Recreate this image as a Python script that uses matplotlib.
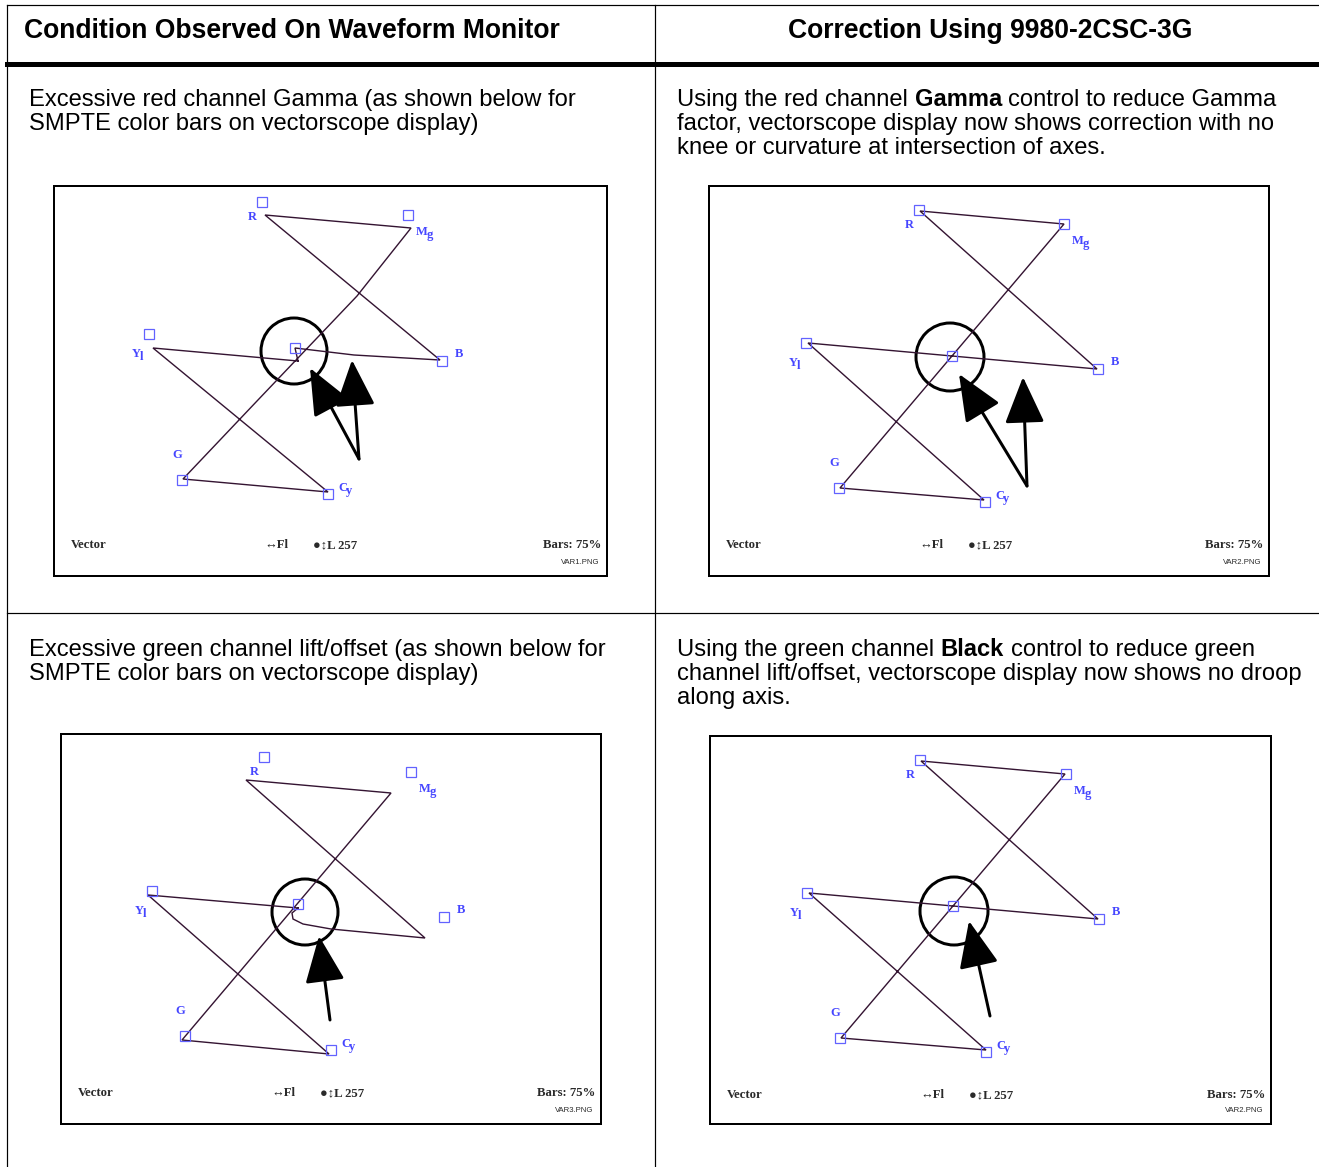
import matplotlib
matplotlib.use("Agg")
import matplotlib.pyplot as plt
from matplotlib.patches import Circle, FancyArrowPatch

W, H = 1319, 1167

# header and description text
header_left = "Condition Observed On Waveform Monitor"
header_right = "Correction Using 9980-2CSC-3G"

text_top_left = [[("Excessive red channel Gamma (as shown below for", False)],
                 [("SMPTE color bars on vectorscope display)", False)]]
text_top_right = [[("Using the red channel", False), ("Gamma", True), ("control to reduce Gamma", False)],
                  [("factor, vectorscope display now shows correction with no", False)],
                  [("knee or curvature at intersection of axes.", False)]]
text_bot_left = [[("Excessive green channel lift/offset (as shown below for", False)],
                 [("SMPTE color bars on vectorscope display)", False)]]
text_bot_right = [[("Using the green channel", False), ("Black", True), ("control to reduce green", False)],
                  [("channel lift/offset, vectorscope display now shows no droop", False)],
                  [("along axis.", False)]]

# vectorscope target names (order of the target lists below, centre last)
target_names = [("R", ""), ("M", "g"), ("B", ""), ("C", "y"), ("G", ""), ("Y", "l")]

# trace points (scope pixel units)
p1_trace = [(244, 175), (99, 162), (274, 306), (129, 293), (203, 215), (303, 110), (357, 42),
            (211, 29), (386, 174), (300, 169), (241, 162), (244, 175)]
p1_targets = [(208, 16), (354, 29), (388, 175), (274, 308), (128, 294), (95, 148), (241, 162)]

p2_trace = [(243, 170), (99, 157), (275, 314), (131, 302), (355, 38), (211, 25), (388, 183), (243, 170)]
p2_targets = [(210, 24), (355, 38), (389, 183), (276, 316), (130, 302), (97, 157), (243, 170)]

p3_trace = [(237, 174), (87, 161), (268, 320), (121, 306), (330, 59), (185, 46), (364, 204),
            (270, 195), (242, 190), (232, 185), (231, 179), (237, 174)]
p3_targets = [(203, 23), (350, 38), (383, 183), (270, 316), (124, 302), (91, 157), (237, 170)]

p4_trace = [(243, 170), (99, 157), (276, 314), (131, 302), (355, 38), (211, 25), (388, 183), (243, 170)]
p4_targets = [(210, 24), (356, 38), (389, 183), (276, 316), (130, 302), (97, 157), (243, 170)]

# highlight circles and arrows (centre, radius) / (tail, tips)
p1_circle = ((240, 165), 33)
p1_arrows = ((305, 273), [(256, 182), (298, 174)])
p2_circle = ((241, 171), 34)
p2_arrows = ((318, 300), [(250, 188), (314, 191)])
p3_circle = ((244, 178), 33)
p3_arrows = ((269, 286), [(258, 202)])
p4_circle = ((244, 175), 34)
p4_arrows = ((280, 280), [(259, 185)])

file_names = ["VAR1.PNG", "VAR2.PNG", "VAR3.PNG", "VAR2.PNG"]

fig = plt.figure(figsize=(W / 100, H / 100), dpi=100)
ax0 = fig.add_axes([0, 0, 1, 1])
ax0.set_xlim(0, W)
ax0.set_ylim(H, 0)
ax0.axis("off")
renderer = fig.canvas.get_renderer()

px = 0.72  # one pixel in points

# table rules
ax0.plot([7, W], [5, 5], color="k", lw=1.2 * px)
ax0.plot([7, 7], [5, H], color="k", lw=1.2 * px)
ax0.plot([655, 655], [5, H], color="k", lw=1.2 * px)
ax0.plot([7, W], [64, 64], color="k", lw=5 * px)
ax0.plot([7, W], [613, 613], color="k", lw=1.2 * px)

sans = "Liberation Sans"
ax0.text(24, 38, header_left, fontsize=19.1, fontweight="bold", family=sans, va="baseline")
ax0.text(990, 38, header_right, fontsize=19.1, fontweight="bold", family=sans, va="baseline", ha="center")


def text_width(s, size, bold):
    t = ax0.text(0, 0, s, fontsize=size, fontweight="bold" if bold else "normal", family=sans)
    w = t.get_window_extent(renderer).width
    t.remove()
    return w


def draw_paragraph(x0, y0, lines, size=17.15, step=24):
    space = text_width("x x", size, False) - text_width("xx", size, False)
    for i, runs in enumerate(lines):
        x = x0
        for txt, bold in runs:
            t = ax0.text(x, y0 + i * step, txt, fontsize=size, family=sans,
                         fontweight="bold" if bold else "normal", va="baseline")
            x += t.get_window_extent(renderer).width + space


draw_paragraph(29, 106, text_top_left)
draw_paragraph(677, 106, text_top_right)
draw_paragraph(29, 656, text_bot_left)
draw_paragraph(677, 656, text_bot_right)

label_offsets = [(-10, 15), (20, 17), (17, -7), (19, -6), (-5, -25), (-8, 20)]
serif = ["Liberation Serif", "DejaVu Serif"]
blue = "#4545ff"


def draw_scope(box, trace, targets, circle, arrows, fname):
    x, y, w, h = box
    ax = fig.add_axes([x / W, 1 - (y + h) / H, w / W, h / H])
    ax.set_xlim(0, w)
    ax.set_ylim(h, 0)
    ax.set_xticks([])
    ax.set_yticks([])
    for s in ax.spines.values():
        s.set_linewidth(2 * px)

    tx = [p[0] for p in trace]
    ty = [p[1] for p in trace]
    ax.plot(tx, ty, color="#341432", lw=1.4 * px, solid_joinstyle="miter")

    gx = [p[0] for p in targets]
    gy = [p[1] for p in targets]
    ax.plot(gx, gy, ls="none", marker="s", ms=7.6, mfc="none", mec="#6262ff", mew=0.9)

    for (main, sub), (gx0, gy0), (dx, dy) in zip(target_names, targets, label_offsets):
        lx, ly = gx0 + dx, gy0 + dy
        ax.text(lx, ly, main, color=blue, fontsize=9, family=serif, fontweight="bold",
                ha="center" if not sub else "right", va="center")
        if sub:
            ax.text(lx - 1, ly + 3, sub, color=blue, fontsize=9, family=serif, fontweight="bold",
                    ha="left", va="center")

    (cx, cy), r = circle
    ax.add_patch(Circle((cx, cy), r, fill=False, ec="k", lw=3 * px))
    tail, tips = arrows
    for tip in tips:
        ax.add_patch(FancyArrowPatch(tail, tip, arrowstyle="-|>,head_length=1.45,head_width=0.62",
                                     mutation_scale=20, color="k", lw=3 * px,
                                     shrinkA=0, shrinkB=0))

    ty0 = h - 31 if h > 389 else h - 29
    tcol = "#2a2a2a"
    fs = 9.2
    ax.text(17, ty0, "Vector", fontsize=fs, family=serif, fontweight="bold", color=tcol, va="center")
    ax.text(210, ty0, "\u2194Fl", fontsize=fs, family=serif, fontweight="bold", color=tcol, va="center")
    ax.text(259, ty0, "\u25cf\u2195L 257", fontsize=fs, family=serif, fontweight="bold", color=tcol, va="center")
    ax.text(w - 6, ty0, "Bars: 75%", fontsize=fs, family=serif, fontweight="bold", color=tcol,
            va="center", ha="right", clip_on=True)
    ax.text(w - 8, h - 14, fname, fontsize=5.6, family=sans, color=tcol, va="center", ha="right")


draw_scope((54, 186, 553, 390), p1_trace, p1_targets, p1_circle, p1_arrows, file_names[0])
draw_scope((709, 186, 560, 390), p2_trace, p2_targets, p2_circle, p2_arrows, file_names[1])
draw_scope((61, 734, 540, 390), p3_trace, p3_targets, p3_circle, p3_arrows, file_names[2])
draw_scope((710, 736, 561, 388), p4_trace, p4_targets, p4_circle, p4_arrows, file_names[3])

fig.savefig("out.png", dpi=100)
